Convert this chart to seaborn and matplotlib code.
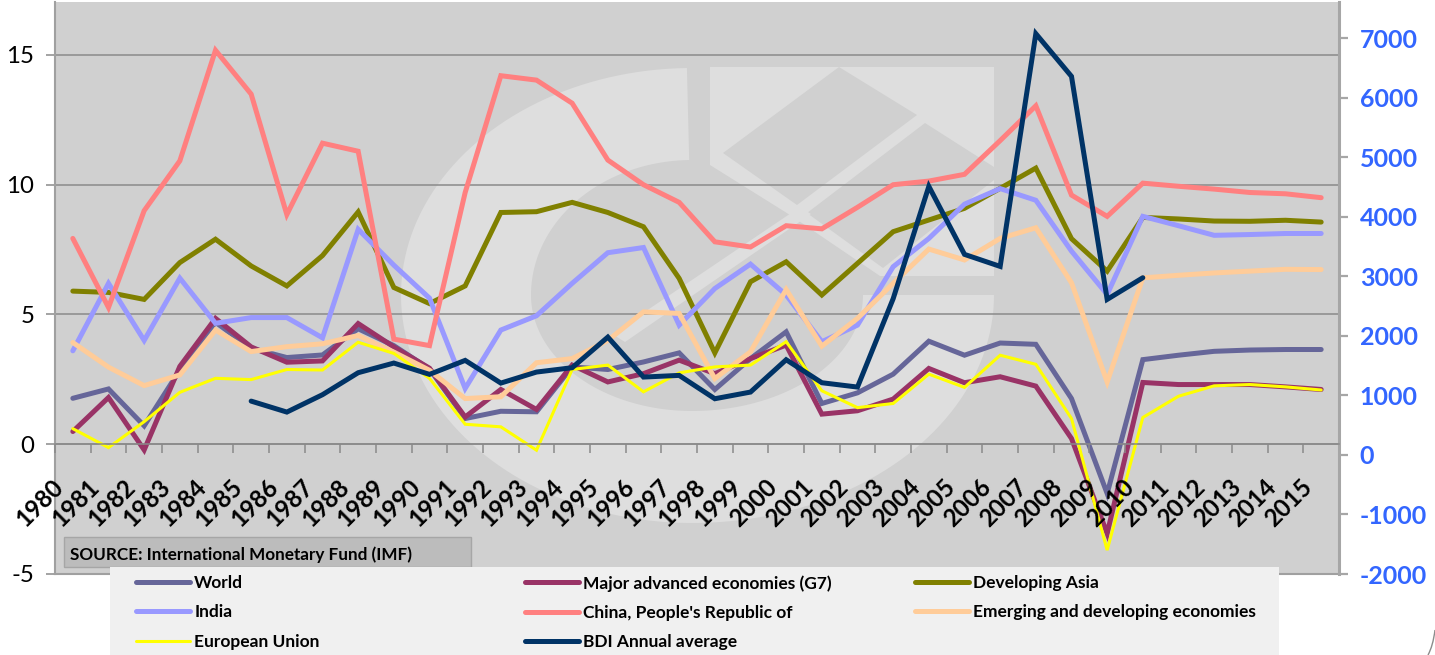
import numpy as np
import pandas as pd
import seaborn as sns
import matplotlib
matplotlib.use("Agg")
import matplotlib.pyplot as plt
from matplotlib.patches import Polygon, Rectangle, PathPatch
from matplotlib.path import Path
from matplotlib.transforms import Affine2D, ScaledTranslation

years = list(range(1980, 2016))
world = [1.77, 2.13, 0.71, 2.86, 4.7, 3.7, 3.34, 3.44, 4.45, 3.8, 2.9, 0.99, 1.27, 1.25, 2.98, 2.88, 3.17, 3.52,
         2.11, 3.3, 4.33, 1.57, 1.98, 2.7, 3.97, 3.43, 3.9, 3.85, 1.76, -1.9, 3.26, 3.43, 3.58, 3.63, 3.65, 3.65]
g7 = [0.49, 1.8, -0.22, 3.0, 4.85, 3.75, 3.16, 3.21, 4.65, 3.75, 2.93, 1.05, 2.11, 1.34, 3.05, 2.4, 2.72, 3.24,
      2.72, 3.3, 3.82, 1.16, 1.29, 1.74, 2.92, 2.37, 2.6, 2.24, 0.22, -3.44, 2.38, 2.3, 2.3, 2.3, 2.21, 2.11]
asia = [5.9, 5.85, 5.58, 7.0, 7.9, 6.87, 6.1, 7.27, 8.95, 6.04, 5.42, 6.1, 8.93, 8.96, 9.32, 8.93, 8.38, 6.39,
        3.52, 6.26, 7.03, 5.75, 6.97, 8.19, 8.64, 9.09, 9.86, 10.64, 7.92, 6.67, 8.74, 8.68, 8.6, 8.59, 8.63, 8.56]
india = [3.6, 6.2, 4.0, 6.4, 4.66, 4.88, 4.88, 4.1, 8.28, 6.9, 5.63, 2.15, 4.4, 4.95, 6.2, 7.38, 7.58, 4.59,
         6.0, 6.94, 5.75, 3.95, 4.59, 6.84, 7.93, 9.25, 9.85, 9.4, 7.44, 5.77, 8.78, 8.42, 8.05, 8.08, 8.12, 8.12]
china = [7.93, 5.27, 9.0, 10.92, 15.18, 13.49, 8.85, 11.6, 11.29, 4.05, 3.8, 9.7, 14.2, 14.03, 13.14, 10.95, 10.0,
         9.32, 7.8, 7.6, 8.42, 8.3, 9.13, 10.0, 10.14, 10.4, 11.7, 13.04, 9.6, 8.78, 10.06, 9.94, 9.83, 9.7, 9.65, 9.5]
emerging = [3.92, 2.97, 2.26, 2.67, 4.4, 3.57, 3.76, 3.87, 4.19, 3.55, 2.85, 1.76, 1.83, 3.14, 3.3, 4.0, 5.1, 5.04,
            2.53, 3.56, 5.96, 3.78, 4.85, 6.2, 7.52, 7.1, 7.93, 8.34, 6.22, 2.4, 6.41, 6.51, 6.6, 6.67, 6.74, 6.73]
eu = [0.6, -0.13, 0.87, 2.0, 2.54, 2.49, 2.88, 2.86, 3.93, 3.5, 2.54, 0.77, 0.67, -0.23, 2.88, 3.05, 2.02, 2.75,
      2.98, 3.05, 3.95, 2.06, 1.41, 1.57, 2.7, 2.19, 3.43, 3.08, 0.99, -4.08, 1.03, 1.85, 2.25, 2.3, 2.21, 2.09]
bdi = [np.nan] * 5 + [903, 719, 1011, 1380, 1542, 1352, 1587, 1206, 1391, 1464, 1978, 1307, 1335, 943, 1055, 1598,
                      1212, 1139, 2623, 4509, 3367, 3165, 7073, 6356, 2611, 2975] + [np.nan] * 5

left_names = ["World", "Major advanced economies (G7)", "Developing Asia", "India",
              "China, People's Republic of", "Emerging and developing economies", "European Union"]
left_values = [world, g7, asia, india, china, emerging, eu]
left_colors = ["#666699", "#993366", "#808000", "#9999FF", "#FF8080", "#FFCC99", "#FFFF00"]
left_widths = [3.6, 3.6, 3.6, 3.6, 3.6, 3.6, 2.2]
bdi_name = "BDI Annual average"
source_text = "SOURCE: International Monetary Fund (IMF)"
left_ticks = [-5, 0, 5, 10, 15]
right_ticks = [-2000, -1000, 0, 1000, 2000, 3000, 4000, 5000, 6000, 7000]

W, H = 1435, 655
sns.set_theme(style="white")
plt.rcParams["font.family"] = ["Lato", "DejaVu Sans"]
GREY = "#8a8a8a"

fig = plt.figure(figsize=(W / 100, H / 100), dpi=100, facecolor="white")
ax = fig.add_axes([55 / W, (H - 574) / H, (1339 - 55) / W, 572 / H], facecolor="#d0d0d0")
px = Affine2D().scale(1, -1).translate(0, H)   # reference pixel coordinates

# watermark
LIGHT, DARK = "#dedede", "#d0d0d0"
def ring():
    cx, cy = 692, 295
    t_out = np.radians(np.linspace(0, 269, 140))
    t_in = t_out[::-1]
    outer = np.c_[cx + np.where(np.cos(t_out) < 0, 291, 302) * np.cos(t_out),
                  cy + np.where(np.sin(t_out) > 0, 228, 227) * np.sin(t_out)]
    inner = np.c_[cx + np.where(np.cos(t_in) < 0, 161, 171) * np.cos(t_in),
                  cy + np.where(np.sin(t_in) > 0, 116, 135) * np.sin(t_in)]
    return np.r_[outer, inner]
shapes = [(ring(), LIGHT),
          (np.array([[710, 67], [994, 67], [994, 276], [710, 276]]), LIGHT),
          (np.array([[723, 153], [839, 67], [917, 115], [797, 205]]), DARK),
          (np.array([[925, 123], [994, 167], [994, 180], [883, 268], [807, 213]]), DARK),
          (np.array([[710, 165], [790, 215], [880, 276], [710, 276]]), DARK),
          (np.array([[800, 207], [811, 214], [625, 342], [612, 334]]), LIGHT)]
for pts, col in shapes:
    ax.add_patch(Polygon(pts, closed=True, facecolor=col, edgecolor="none", transform=px, zorder=0.1))

x = np.arange(len(years))
df = pd.DataFrame({"x": x, "bdi": bdi})
for name, vals, col, lw in zip(left_names, left_values, left_colors, left_widths):
    sns.lineplot(x=x, y=vals, ax=ax, color=col, linewidth=lw, label=name, legend=False,
                 errorbar=None, estimator=None, sort=False, solid_capstyle="round", solid_joinstyle="miter")

ax2 = ax.twinx()
sns.lineplot(data=df.dropna(), x="x", y="bdi", ax=ax2, color="#003366", linewidth=3.6, label=bdi_name, legend=False,
             errorbar=None, estimator=None, solid_capstyle="round", solid_joinstyle="miter")

ax.set_ylim(-5, 17.04)
ax.set_xlim(-0.5, 35.5)
ax2.set_ylim(-2000, 7605)
ax.set_ylabel("")
ax2.set_ylabel("")
ax.set_xlabel("")
ax2.set_xlabel("")
ax.set_yticks(left_ticks)
ax.set_yticklabels([str(v) for v in left_ticks])
ax2.set_yticks(right_ticks)
ax2.set_yticklabels([str(v) for v in right_ticks], fontweight="bold")
ax.set_axisbelow(True)
ax.grid(axis="y", color=GREY, linewidth=1.1)
ax.grid(axis="x", visible=False)
ax2.grid(False)
ax.tick_params(axis="y", left=True, length=6.5, width=1.1, color=GREY, labelsize=17.3, labelcolor="black", pad=8.5)
ax2.tick_params(axis="y", right=True, length=6.5, width=1.6, color="#a6a6a6", labelsize=18, labelcolor="#3366FF", pad=8.5)

for a in (ax, ax2):
    for s in a.spines.values():
        s.set_color(GREY)
        s.set_linewidth(1.1)
    a.spines["top"].set_visible(False)
ax2.spines["left"].set_visible(False)
ax.spines["right"].set_visible(False)
ax2.spines["right"].set_color("#a6a6a6")
ax2.spines["right"].set_linewidth(2.2)
ax.spines["left"].set_color("#a0a0a0")
ax.spines["left"].set_linewidth(1.5)
ax.spines["bottom"].set_color("#a0a0a0")
ax.spines["bottom"].set_linewidth(1.5)

# category axis crossing the left axis at 0, drawn over the lines
ax.xaxis.set_visible(False)
ax2.xaxis.set_visible(True)
ax2.set_axisbelow(False)
y0_right = -2000 + (574 - 444) / 572 * 9605
ax2.spines["bottom"].set_position(("data", y0_right))
ax2.spines["bottom"].set_color(GREY)
ax2.set_xticks(x - 0.5)
ax2.set_xticklabels([str(y) for y in years], fontweight="bold")
ax2.tick_params(axis="x", bottom=True, length=6.5, width=1.1, color=GREY, pad=21.5, labelsize=17.3, labelcolor="black")
shift = ScaledTranslation(5 / 100, 0, fig.dpi_scale_trans)
for lab in ax2.get_xticklabels():
    lab.set_rotation(45)
    lab.set_ha("right")
    lab.set_va("center")
    lab.set_rotation_mode("anchor")
    lab.set_transform(lab.get_transform() + shift)

# source box
ax2.add_patch(Rectangle((64, 537), 407, 30, facecolor="#bcbcbc", edgecolor="#a6a6a6", linewidth=1, transform=px, zorder=3))
ax2.text(70, 555, source_text, transform=px, fontsize=12.3, fontweight="bold", color="black", va="center", zorder=4)

# legend panel
fig.add_artist(Rectangle((110, 0), 1169, 88, facecolor="#f0f0f0", edgecolor="none",
                         transform=Affine2D(), zorder=4))
lines = ax.get_lines() + ax2.get_lines()
by_label = {l.get_label(): l for l in lines}
columns = [(["World", "India", "European Union"], 133),
           (["Major advanced economies (G7)", "China, People's Republic of", bdi_name], 522),
           (["Developing Asia", "Emerging and developing economies"], 912)]
for labels, xpos in columns:
    handles = [by_label[n] for n in labels]
    leg = fig.legend(handles, labels, loc="upper left", bbox_to_anchor=(xpos / W, 1 - 571.5 / H),
                     bbox_transform=fig.transFigure, frameon=False, ncols=1, borderpad=0.2, borderaxespad=0,
                     handlelength=3.1, handletextpad=0.23, labelspacing=0.77, labelcolor="black",
                     prop={"family": ["Lato", "DejaVu Sans"], "weight": "bold", "size": 12.5})
    leg.set_zorder(5)

# page corner
corner = Path([(1435, 630), (1433, 646), (1428, 655)], [Path.MOVETO, Path.CURVE3, Path.CURVE3])
fig.add_artist(PathPatch(corner, facecolor="none", edgecolor="#8c8c8c", linewidth=1, transform=px, zorder=6))

fig.savefig("out.png", dpi=100)
